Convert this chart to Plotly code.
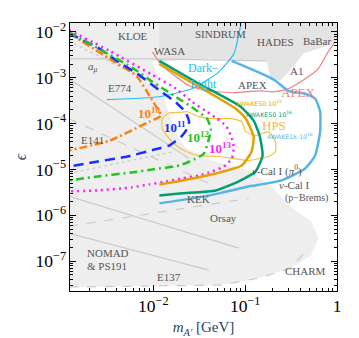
import numpy as np
import plotly.graph_objects as go

# ---------------- data (m in GeV, epsilon) ----------------
# darker overlap band of the collider / meson-decay limits at the top
topband_m = [0.01161, 1.05, 1.05, 0.7063, 0.429, 0.3184, 0.2421, 0.1888, 0.1708, 0.04028, 0.01161]
topband_eps = [2.0e-2, 2.0e-2, 6.37e-3, 4.72e-3, 3.33e-3, 1.57e-3, 8.61e-4, 9.51e-4, 2.34e-3, 2.59e-3, 2.34e-3]

# allowed (white) window inside the excluded grey area
allowed_m = [0.009754, 0.0149, 0.04028, 0.1708, 0.1888, 0.2421, 0.3184, 0.429, 0.7063, 1.03,
             1.03, 0.0012, 0.0012, 0.05572, 0.14, 0.3184, 0.5233, 0.6237, 0.5233, 0.2951,
             0.1888, 0.1091, 0.06966, 0.03557, 0.02163, 0.01687, 0.01417, 0.01161, 0.009754]
allowed_eps = [2.34e-3, 2.34e-3, 2.59e-3, 2.34e-3, 9.51e-4, 8.61e-4, 1.57e-3, 3.33e-3, 4.72e-3, 6.37e-3,
               2.2e-8, 2.2e-8, 2.72e-8, 3.0e-8, 4.27e-8, 7.05e-8, 1.35e-7, 3.16e-7, 7.4e-7, 1.65e-6,
               4.49e-6, 9.51e-6, 1.22e-5, 1.73e-5, 3.16e-5, 7.78e-5, 2.12e-4, 7.41e-4, 2.34e-3]

# grey outlines of individual existing limits
outline_lines = [
    ([0.0012, 0.02451], [9.51e-4, 1.73e-5], "solid"),
    ([0.0012, 0.04028], [1.29e-4, 4.96e-6], "dash"),
    ([0.0012, 0.08511], [2.59e-6, 1.92e-7], "solid"),
    ([0.0012, 0.04028], [4.06e-7, 6.37e-8], "solid"),
    ([0.0012, 0.1091], [5.76e-7, 2.34e-6], "dash"),
    ([0.0012, 0.01161], [6.37e-3, 6.37e-4], "dot"),
    ([0.0012, 0.01687], [8.19e-6, 2.46e-5], "dot"),
    ([0.0012, 0.05572, 0.14, 0.3184, 0.4857], [2.72e-8, 3.0e-8, 4.27e-8, 7.05e-8, 1.92e-7], "dash"),
    ([0.0012, 0.009055, 0.1708], [2.59e-3, 2.59e-3, 2.34e-3], "solid"),
]

# projected sensitivities (number of electrons on target)
n10_m = [0.0012, 0.003342, 0.006551, 0.009055, 0.01104, 0.0122, 0.01076, 0.009055, 0.003342, 0.0012]
n10_eps = [9.5e-3, 2.59e-3, 1.10e-3, 4.06e-4, 2.12e-4, 1.49e-4, 1.29e-4, 1.10e-4, 4.27e-5, 2.59e-5]

n11_m = [0.0012, 0.002607, 0.003981, 0.006714, 0.01104, 0.01774, 0.02218, 0.02451, 0.02333, 0.0206,
         0.0149, 0.01025, 0.005233, 0.002483, 0.0012]
n11_eps = [9.5e-3, 4.27e-3, 2.34e-3, 1.22e-3, 5.76e-4, 2.86e-4, 1.82e-4, 1.10e-4, 7.78e-5, 5.49e-5,
           3.33e-5, 2.72e-5, 1.92e-5, 1.49e-5, 1.16e-5]

n12_m = [0.0012, 0.003342, 0.005929, 0.009754, 0.01687, 0.02773, 0.03835, 0.04232, 0.04028, 0.03557,
         0.02773, 0.0191, 0.009754, 0.005781, 0.002483, 0.0012]
n12_eps = [1e-2, 3.16e-3, 1.65e-3, 8.19e-4, 4.06e-4, 2.12e-4, 1.29e-4, 7.78e-5, 4.72e-5, 2.23e-5,
           1.65e-5, 1.22e-5, 1e-5, 8.61e-6, 7.05e-6, 5.76e-6]

n13_m = [0.0012, 0.003342, 0.009754, 0.01774, 0.02642, 0.03835, 0.0492, 0.06152, 0.06966, 0.07516,
         0.07145, 0.05855, 0.04342, 0.03141, 0.0206, 0.01382, 0.009055, 0.005781, 0.002483, 0.0012]
n13_eps = [1.10e-2, 3.86e-3, 1.16e-3, 5.76e-4, 3.01e-4, 1.82e-4, 1.29e-4, 9.05e-5, 5.49e-5, 3.16e-5,
           1.73e-5, 1.16e-5, 9.05e-6, 7.41e-6, 6.37e-6, 5.49e-6, 4.72e-6, 4.06e-6, 3.49e-6, 3.33e-6]

awake50_15_m = [0.01161, 0.03141, 0.07896, 0.1012, 0.1236, 0.1175, 0.09173, 0.04797, 0.0206, 0.01161]
awake50_15_eps = [2.01e-3, 6.37e-4, 2.12e-4, 1.29e-4, 5.21e-5, 2.46e-5, 1.22e-5, 8.19e-6, 5.76e-6, 4.72e-6]

awake50_16_m = [0.01161, 0.03141, 0.08942, 0.1236, 0.1436, 0.1546, 0.1299, 0.08511, 0.04797, 0.0206, 0.01161]
awake50_16_eps = [2.34e-3, 7.41e-4, 2.34e-4, 1.16e-4, 5.49e-5, 2.01e-5, 9.05e-6, 5.49e-6, 3.49e-6, 3.01e-6, 2.72e-6]

awake1k_16_m = [0.07145, 0.1147, 0.1795, 0.2138, 0.2951, 0.4508, 0.5781, 0.6551, 0.6551, 0.5781, 0.4508,
                0.2483, 0.1299, 0.1091, 0.05173, 0.02642, 0.01161]
awake1k_16_eps = [2.34e-3, 1.57e-3, 1.05e-3, 8.61e-4, 5.21e-4, 4.49e-4, 3.49e-4, 1.82e-4, 6.70e-5, 2.01e-5,
                  1.05e-5, 5.76e-6, 4.49e-6, 4.27e-6, 3.01e-6, 2.34e-6, 1.82e-6]

darklight_m = [0.003105, 0.01161, 0.02642, 0.05173, 0.07516, 0.08942]
darklight_eps = [3.33e-4, 3.86e-4, 5.76e-4, 1.35e-3, 3.33e-3, 1.42e-2]

apex_m = [0.009754, 0.0125, 0.01774, 0.02451, 0.04028, 0.07516, 0.14, 0.2033, 0.2951, 0.4508, 0.6237, 0.8, 0.9506]
apex_eps = [3.67e-3, 1.82e-3, 1.05e-3, 6.70e-4, 5.21e-4, 4.72e-4, 5.21e-4, 4.96e-4, 5.76e-4, 9.51e-4, 1.57e-3, 3.67e-3, 6.07e-3]

hps_m = [0.0125, 0.0149, 0.01774, 0.02333, 0.03141, 0.04342, 0.07145, 0.09173, 0.1012, 0.1299, 0.1795, 0.2138,
         0.2138, 0.1795, 0.14, 0.1091, 0.05173, 0.03141, 0.02275, 0.01774, 0.0149, 0.0125, 0.0125]
hps_eps = [1.29e-4, 1.73e-4, 1.73e-4, 1.82e-4, 1.42e-4, 1.29e-4, 1.29e-4, 1.10e-4, 6.70e-5, 5.49e-5, 6.70e-5, 4.06e-5,
           2.46e-5, 1.92e-5, 1.73e-5, 1.57e-5, 1.92e-5, 2.01e-5, 2.46e-5, 3.33e-5, 4.72e-5, 7.78e-5, 1.29e-4]

# labels: (text, m, eps, colour, size, family)
GREY = "#555555"
SERIF = "Liberation Serif, DejaVu Serif, serif"
SANS = "DejaVu Sans, sans-serif"
labels = [
    ("KLOE", 0.005929, 8.19e-3, GREY, 11, SERIF),
    ("WASA", 0.0149, 3.86e-3, GREY, 11, SERIF),
    ("SINDRUM", 0.05433, 9.05e-3, GREY, 11, SERIF),
    ("HADES", 0.2138, 6.07e-3, GREY, 11, SERIF),
    ("BaBar", 0.6081, 6.37e-3, GREY, 11, SERIF),
    ("A1", 0.3606, 1.42e-3, GREY, 11, SERIF),
    ("APEX", 0.1205, 7.05e-4, GREY, 11, SERIF),
    ("<i>a<sub>μ</sub></i>", 0.002193, 1.73e-3, GREY, 11, SERIF),
    ("E774", 0.004285, 6.07e-4, GREY, 11, SERIF),
    ("E141", 0.002193, 4.49e-5, GREY, 11, SERIF),
    ("<i>ν</i>-Cal I (<i>π</i><sup>0</sup>)", 0.2193, 9.51e-6, GREY, 11, SERIF),
    ("<i>ν</i>-Cal I", 0.3428, 4.49e-6, GREY, 11, SERIF),
    ("(p−Brems)", 0.4624, 2.34e-6, GREY, 10, SERIF),
    ("KEK", 0.03063, 2.23e-6, GREY, 11, SERIF),
    ("Orsay", 0.05855, 8.61e-7, GREY, 11, SERIF),
    ("E137", 0.0149, 4.49e-8, GREY, 11, SERIF),
    ("CHARM", 0.4508, 6.07e-8, GREY, 11, SERIF),
    ("APEX", 0.38, 4.85e-4, "#f08080", 13, SERIF),
    ("HPS", 0.2085, 9.05e-5, "#f5b935", 13, SERIF),
    ("Dark−<br>Light", 0.03557, 1.10e-3, "#22bff0", 12, SERIF),
    ("AWAKE50 10<sup>15</sup>", 0.14, 2.8e-4, "#e69f00", 6.3, SANS),
    ("AWAKE50 10<sup>16</sup>", 0.1795, 1.62e-4, "#009e73", 6.3, SANS),
    ("AWAKE1k 10<sup>16</sup>", 0.3104, 5.49e-5, "#56b4e9", 6.3, SANS),
    ("<b>10<sup>10</sup></b>", 0.009055, 1.73e-4, "#ff7f0e", 13, SERIF),
    ("<b>10<sup>11</sup></b>", 0.0173, 8.61e-5, "#1a2eff", 13, SERIF),
    ("<b>10<sup>12</sup></b>", 0.03063, 5.21e-5, "#22c422", 13, SERIF),
    ("<b>10<sup>13</sup></b>", 0.05433, 3.01e-5, "#ff1aff", 13, SERIF),
]
nomad_m, nomad_eps = 0.001795, [1.49e-7, 7.78e-8]

x_range = [-2.908, 0.0]
y_range = [-7.652, -1.804]

# ---------------- figure ----------------
fig = go.Figure()
fig.add_trace(go.Scatter(x=topband_m, y=topband_eps, fill="toself", fillcolor="#e4e4e4",
                         line=dict(width=0), mode="lines", hoverinfo="skip"))
fig.add_trace(go.Scatter(x=allowed_m, y=allowed_eps, fill="toself", fillcolor="white",
                         line=dict(width=0), mode="lines", hoverinfo="skip"))

for xm, ye, d in outline_lines:
    fig.add_trace(go.Scatter(x=xm, y=ye, mode="lines", line=dict(color="#cacaca", width=1.2, dash=d),
                             hoverinfo="skip"))

def curve(xm, ye, color, width, dash="solid"):
    fig.add_trace(go.Scatter(x=xm, y=ye, mode="lines",
                             line=dict(color=color, width=width, dash=dash, shape="spline", smoothing=0.5),
                             hoverinfo="skip"))

curve(darklight_m, darklight_eps, "#22bff0", 1.2)
curve(apex_m, apex_eps, "#f08080", 1.2)
curve(hps_m, hps_eps, "#f5c040", 1.2)
curve(n10_m, n10_eps, "#ff7f0e", 2.5, "8px,3px,2px,3px")
curve(n11_m, n11_eps, "#1a2eff", 2.5, "10px,6px")
curve(n12_m, n12_eps, "#22c422", 2.5, "8px,4px,2px,4px")
curve(n13_m, n13_eps, "#ff1aff", 2.5, "2px,4px")
curve(awake1k_16_m, awake1k_16_eps, "#56b4e9", 2.5)
curve(awake50_16_m, awake50_16_eps, "#009e73", 2.5)
curve(awake50_15_m, awake50_15_eps, "#e69f00", 2.5)

for txt, xm, ye, col, size, fam in labels:
    fig.add_annotation(x=np.log10(xm), y=np.log10(ye), text=txt, showarrow=False,
                       font=dict(color=col, size=size, family=fam))
fig.add_annotation(x=np.log10(nomad_m), y=np.log10(nomad_eps[0]), text="NOMAD", showarrow=False,
                   xanchor="left", font=dict(color=GREY, size=11, family=SERIF))
fig.add_annotation(x=np.log10(nomad_m), y=np.log10(nomad_eps[1]), text="&amp; PS191", showarrow=False,
                   xanchor="left", font=dict(color=GREY, size=11, family=SERIF))

axis_common = dict(type="log", showgrid=False, zeroline=False, showline=True, linecolor="black",
                   linewidth=1.3, mirror="ticks", ticks="inside", ticklen=6, tickwidth=1,
                   tickcolor="black", dtick=1, exponentformat="power",
                   tickfont=dict(family=SERIF, size=14, color="black"),
                   minor=dict(ticks="inside", ticklen=3, tickcolor="black", showgrid=False))
fig.update_xaxes(range=x_range,
                 title=dict(text="<i>m</i><sub><i>A'</i></sub> [GeV]", font=dict(family=SERIF, size=15),
                            standoff=6), **axis_common)
fig.update_yaxes(range=y_range,
                 title=dict(text="<i>ϵ</i>", font=dict(family=SERIF, size=16), standoff=4), **axis_common)

fig.update_layout(width=359, height=338, margin=dict(l=60, r=30, t=14, b=55),
                  plot_bgcolor="#eeeeee", paper_bgcolor="white", showlegend=False)

fig.write_html("out.html")
